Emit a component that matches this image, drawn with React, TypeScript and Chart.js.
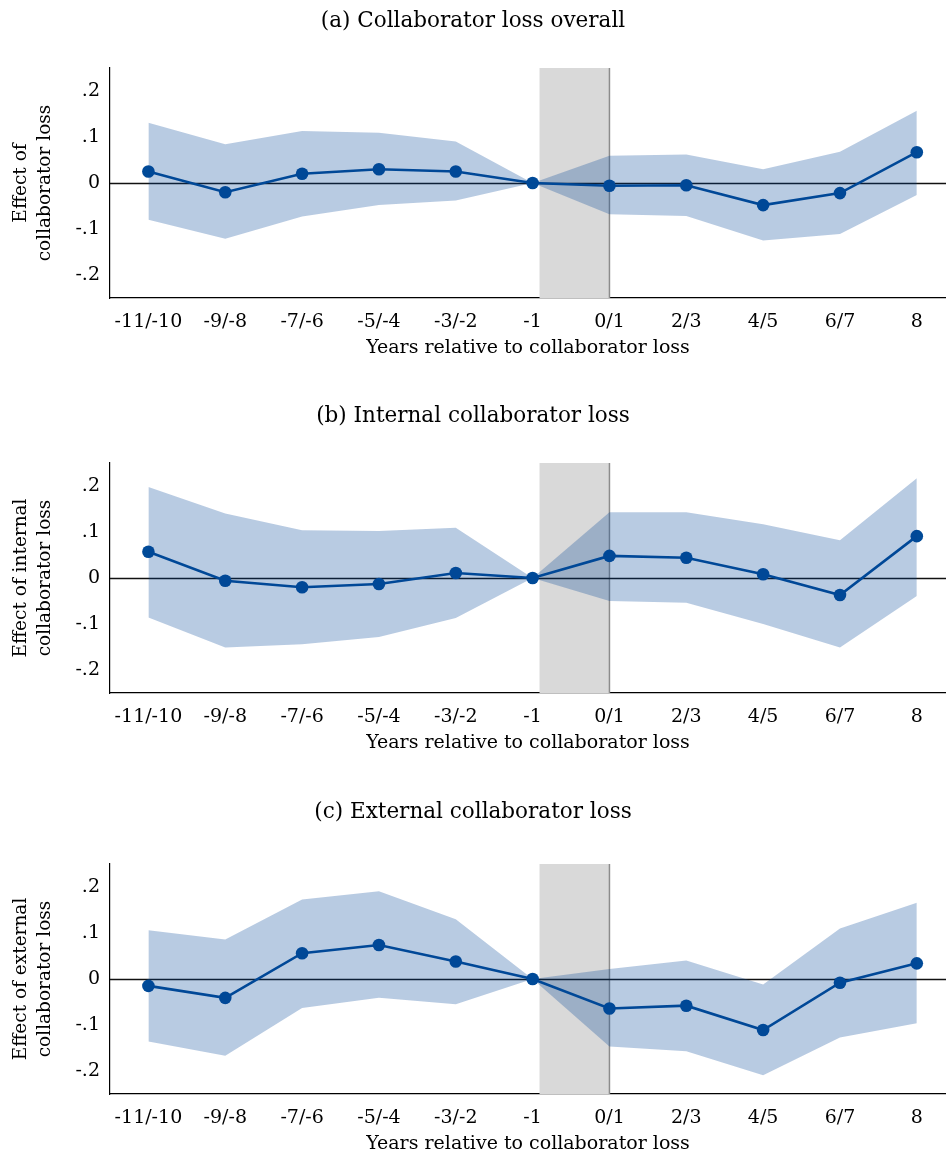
import React, { useEffect, useRef } from 'react';
import { Chart, registerables } from 'chart.js';

Chart.register(...registerables);

const categories = ['-11/-10', '-9/-8', '-7/-6', '-5/-4', '-3/-2', '-1', '0/1', '2/3', '4/5', '6/7', '8'];
const yTickValues = [-0.2, -0.1, 0, 0.1, 0.2];

const overallEst = [0.025, -0.02, 0.02, 0.03, 0.025, 0, -0.006, -0.005, -0.048, -0.022, 0.067];
const overallHi = [0.131, 0.084, 0.113, 0.109, 0.09, 0, 0.059, 0.062, 0.03, 0.068, 0.157];
const overallLo = [-0.08, -0.121, -0.073, -0.048, -0.038, 0, -0.068, -0.072, -0.125, -0.111, -0.026];

const internalEst = [0.057, -0.006, -0.02, -0.013, 0.011, 0, 0.048, 0.044, 0.008, -0.037, 0.091];
const internalHi = [0.198, 0.14, 0.104, 0.102, 0.109, 0, 0.143, 0.143, 0.117, 0.082, 0.217];
const internalLo = [-0.086, -0.151, -0.144, -0.128, -0.087, 0, -0.05, -0.054, -0.1, -0.151, -0.039];

const externalEst = [-0.015, -0.041, 0.056, 0.074, 0.038, 0, -0.064, -0.058, -0.111, -0.008, 0.034];
const externalHi = [0.106, 0.086, 0.173, 0.191, 0.13, 0, 0.022, 0.04, -0.012, 0.11, 0.166];
const externalLo = [-0.136, -0.167, -0.063, -0.041, -0.055, 0, -0.147, -0.157, -0.209, -0.127, -0.096];

const SHADE_START = 5.09;
const SHADE_END = 6;

const LINE = '#004a98';
const BAND = 'rgba(0,70,150,0.28)';
const FONT = "'DejaVu Serif', serif";

const fmtTick = (v: number) => {
  if (Math.abs(v) < 1e-9) return '0';
  const d = Math.round(Math.abs(v) * 10);
  return (v < 0 ? '-' : '') + '.' + d;
};

const shadePlugin = {
  id: 'shade',
  beforeDatasetsDraw(chart: any) {
    const { ctx, chartArea, scales } = chart;
    const x = scales.x;
    const y = scales.y;
    const x0 = x.getPixelForValue(SHADE_START);
    const x1 = x.getPixelForValue(SHADE_END);
    ctx.save();
    ctx.fillStyle = '#d9d9d9';
    ctx.fillRect(x0, chartArea.top, x1 - x0, chartArea.bottom - chartArea.top);
    ctx.strokeStyle = '#8c8c8c';
    ctx.lineWidth = 1.5;
    ctx.beginPath();
    ctx.moveTo(x1, chartArea.top);
    ctx.lineTo(x1, chartArea.bottom);
    ctx.stroke();
    const y0 = Math.round(y.getPixelForValue(0)) + 0.5;
    ctx.strokeStyle = '#111';
    ctx.lineWidth = 1.4;
    ctx.beginPath();
    ctx.moveTo(chartArea.left, y0);
    ctx.lineTo(chartArea.right, y0);
    ctx.stroke();
    ctx.restore();
  },
};

type PanelProps = {
  title: string;
  yTitle: string[];
  est: number[];
  hi: number[];
  lo: number[];
  height: number;
  titleTop: number;
};

function Panel({ title, yTitle, est, hi, lo, height, titleTop }: PanelProps) {
  const ref = useRef<HTMLCanvasElement>(null);
  useEffect(() => {
    const toPts = (arr: number[]) => arr.map((v, i) => ({ x: i, y: v }));
    const chart = new Chart(ref.current as HTMLCanvasElement, {
      type: 'line',
      data: {
        datasets: [
          {
            data: toPts(hi),
            borderWidth: 0,
            borderColor: 'rgba(0,0,0,0)',
            pointRadius: 0,
            fill: '+1',
            backgroundColor: BAND,
            tension: 0,
          },
          {
            data: toPts(lo),
            borderWidth: 0,
            borderColor: 'rgba(0,0,0,0)',
            pointRadius: 0,
            fill: false,
            tension: 0,
          },
          {
            data: toPts(est),
            borderColor: LINE,
            borderWidth: 2.6,
            pointRadius: 6.3,
            pointBackgroundColor: LINE,
            pointBorderWidth: 0,
            fill: false,
            tension: 0,
          },
        ],
      } as any,
      options: {
        animation: false,
        responsive: false,
        devicePixelRatio: 1,
        layout: { autoPadding: false, padding: { left: 0, right: 0, top: 0, bottom: height - 360 } },
        plugins: {
          legend: { display: false },
          tooltip: { enabled: false },
          title: {
            display: true,
            text: title,
            color: '#000',
            font: { family: FONT, size: 21.5, weight: 'normal' as any, lineHeight: 1.2 },
            padding: { top: titleTop, bottom: 68 - titleTop - 25.8 },
          },
        },
        scales: {
          x: {
            type: 'linear',
            min: -0.5,
            max: 10.38,
            grid: { display: false, drawTicks: false },
            border: { display: true, color: '#000', width: 1.2 },
            afterBuildTicks: (scale: any) => {
              scale.ticks = categories.map((_, i) => ({ value: i }));
            },
            afterFit: (scale: any) => {
              scale.height = 62;
            },
            ticks: {
              autoSkip: false,
              maxRotation: 0,
              padding: 13,
              color: '#000',
              font: { family: FONT, size: 19 },
              callback: (v: any) => categories[Math.round(Number(v))] ?? '',
            },
            title: {
              display: true,
              text: 'Years relative to collaborator loss',
              color: '#000',
              font: { family: FONT, size: 19, lineHeight: 1.2 },
              padding: { top: 0, bottom: 1 },
            },
          },
          y: {
            type: 'linear',
            min: -0.25,
            max: 0.25,
            grid: { display: false, drawTicks: false },
            border: { display: true, color: '#000', width: 1.2 },
            afterBuildTicks: (scale: any) => {
              scale.ticks = yTickValues.map((v) => ({ value: v }));
            },
            afterFit: (scale: any) => {
              scale.width = 110;
            },
            ticks: {
              padding: 10,
              color: '#000',
              font: { family: FONT, size: 19 },
              callback: (v: any) => fmtTick(Number(v)),
            },
            title: {
              display: true,
              text: yTitle,
              color: '#000',
              font: { family: FONT, size: 18.5, lineHeight: 1.25 },
              padding: { top: 10, bottom: 0 },
            },
          },
        },
      } as any,
      plugins: [shadePlugin],
    });
    return () => chart.destroy();
  }, []);
  return <canvas ref={ref} width={946} height={height} style={{ display: 'block', width: 946, height }} />;
}

export default function App() {
  return (
    <div style={{ position: 'absolute', left: 0, top: 0, width: 946, background: '#fff' }}>
      <Panel
        title="(a) Collaborator loss overall"
        yTitle={['Effect of', 'collaborator loss']}
        est={overallEst}
        hi={overallHi}
        lo={overallLo}
        height={395}
        titleTop={9}
      />
      <Panel
        title="(b) Internal collaborator loss"
        yTitle={['Effect of internal', 'collaborator loss']}
        est={internalEst}
        hi={internalHi}
        lo={internalLo}
        height={401}
        titleTop={9}
      />
      <Panel
        title="(c) External collaborator loss"
        yTitle={['Effect of external', 'collaborator loss']}
        est={externalEst}
        hi={externalHi}
        lo={externalLo}
        height={360}
        titleTop={4}
      />
    </div>
  );
}
